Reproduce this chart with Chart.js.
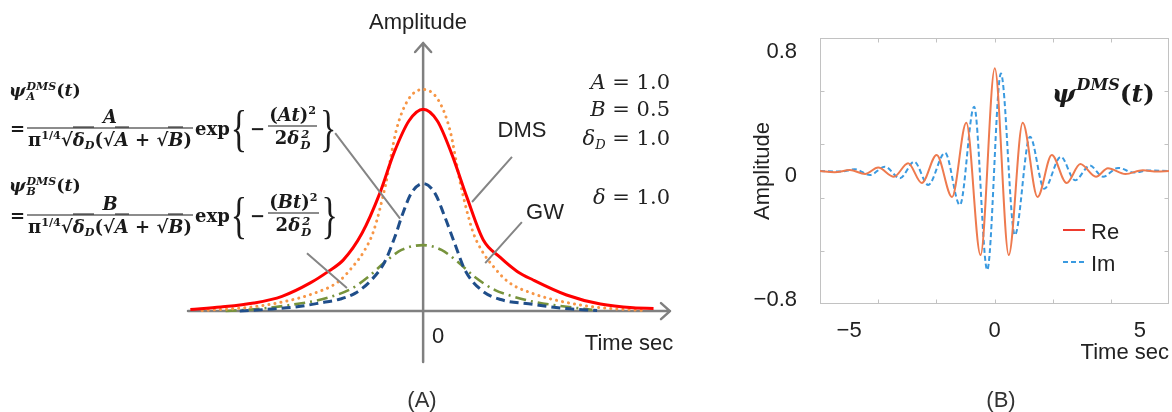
<!DOCTYPE html>
<html><head><meta charset="utf-8">
<script src="https://cdn.jsdelivr.net/npm/chart.js@4.4.1/dist/chart.umd.min.js"></script>
<style>
html,body{margin:0;padding:0;background:#fff}
#wrap{position:relative;width:1172px;height:412px;overflow:hidden;font-family:"Liberation Sans",Arial,sans-serif;color:#222}
canvas{position:absolute;top:0}
#cA{left:0}
#cB{left:700px}
.t{position:absolute;white-space:nowrap;line-height:1}
.cc{transform:translate(-50%,-50%)}
.s22{font-size:22px}
.par{position:absolute;white-space:nowrap;line-height:1;font-family:"DejaVu Serif",serif;font-size:21px;right:502px;transform:translateY(-50%);color:#222}
.par i{font-style:italic}
.par sub{font-size:0.62em;vertical-align:-0.35em;line-height:0;font-style:italic}
.m{font-family:"DejaVu Serif",serif;font-weight:bold;color:#1a1a1a;font-size:17.5px}
.m i{font-style:italic}
.ss{display:inline-block;vertical-align:-4px;font-size:11px;line-height:10px;font-style:italic;margin-left:1px}
.ss span{display:block}
.row{display:flex;align-items:center;transform:translateY(-50%);font-size:18px}
.row .ss{font-size:11.5px;line-height:11px;vertical-align:-5px}
.frac{display:inline-flex;flex-direction:column;text-align:center;margin:0 2px}
.num{border-bottom:1.6px solid #1a1a1a;padding:0 1px 2px}
.den{padding:2px 1px 0}
.m sup{font-size:0.62em;vertical-align:0.6em;line-height:0}
.m sub{font-size:0.62em;vertical-align:-0.35em;line-height:0}
.ov{border-top:1.5px solid #1a1a1a;padding-top:1px}
.br{font-family:"Liberation Serif",serif;font-weight:normal;font-size:34px;line-height:1;display:inline-block;transform:scaleY(1.5);margin:0 1px}
.mn{margin:0 1px 0 2px}
.big{font-family:"DejaVu Serif",serif;font-weight:bold;font-size:25px;color:#1a1a1a}
.big .ss{font-size:16px;line-height:14px;vertical-align:-2px}
</style></head>
<body>
<div id="wrap">
<canvas id="cA" width="700" height="412"></canvas>
<canvas id="cB" width="472" height="412"></canvas>

<div class="t m" style="left:9px;top:82px"><i>ψ</i><span class="ss"><span>DMS</span><span>A</span></span>(<i>t</i>)</div>
<div class="t m row" style="left:10px;top:128px">
  <span>=</span>
  <span class="frac"><span class="num"><i>A</i></span><span class="den"><span>π</span><sup>1/4</sup><span>√</span><span class="ov"><i>δ</i><sub><i>D</i></sub></span>(<span>√</span><span class="ov"><i>A</i></span> + <span>√</span><span class="ov"><i>B</i></span>)</span></span>
  <span>exp</span><span class="br">{</span><span class="mn">−</span>
  <span class="frac"><span class="num">(<i>At</i>)<sup>2</sup></span><span class="den">2<i>δ</i><span class="ss" style="font-style:italic"><span>2</span><span>D</span></span></span></span>
  <span class="br">}</span>
</div>

<div class="t m" style="left:9px;top:177px"><i>ψ</i><span class="ss"><span>DMS</span><span>B</span></span>(<i>t</i>)</div>
<div class="t m row" style="left:10px;top:215px">
  <span>=</span>
  <span class="frac"><span class="num"><i>B</i></span><span class="den"><span>π</span><sup>1/4</sup><span>√</span><span class="ov"><i>δ</i><sub><i>D</i></sub></span>(<span>√</span><span class="ov"><i>A</i></span> + <span>√</span><span class="ov"><i>B</i></span>)</span></span>
  <span>exp</span><span class="br">{</span><span class="mn">−</span>
  <span class="frac"><span class="num">(<i>Bt</i>)<sup>2</sup></span><span class="den">2<i>δ</i><span class="ss" style="font-style:italic"><span>2</span><span>D</span></span></span></span>
  <span class="br">}</span>
</div>

<div class="t s22 cc" style="left:418px;top:22px">Amplitude</div>
<div class="t s22 cc" style="left:438px;top:336px">0</div>
<div class="t s22 cc" style="left:629px;top:343px">Time sec</div>
<div class="t s22 cc" style="left:522px;top:130px">DMS</div>
<div class="t s22 cc" style="left:545px;top:212px">GW</div>
<div class="par" style="top:82px"><i>A</i> = 1.0</div>
<div class="par" style="top:109px"><i>B</i> = 0.5</div>
<div class="par" style="top:138px"><i>δ</i><sub>D</sub> = 1.0</div>
<div class="par" style="top:197px"><i>δ</i> = 1.0</div>
<div class="t s22 cc" style="left:422px;top:400px;color:#333">(A)</div>
<div class="t s22 cc" style="left:1001px;top:400px;color:#333">(B)</div>
<div class="t big" style="left:1052px;top:78px"><i>ψ</i><span class="ss"><span>DMS</span><span>&nbsp;</span></span>(<i>t</i>)</div>
</div>

<script>
// ---------- Panel (A) data ----------
const dmsT   = [-4.95,-4.3,-3.6,-3.0,-2.4,-2.0,-1.7,-1.3,-0.92,-0.62,-0.3,0,0.3,0.6,0.93,1.28,1.64,2.0,2.34,3.05,3.77,4.47,4.9];
const dmsAmp = [0.006,0.015,0.03,0.055,0.105,0.15,0.19,0.29,0.44,0.59,0.71,0.753,0.71,0.59,0.425,0.265,0.20,0.148,0.116,0.06,0.026,0.012,0.01];
const gwT    = [-4.7,-3.75,-3.05,-2.34,-1.8,-1.5,-1.25,-1.05,-0.8,-0.57,-0.33,0,0.33,0.57,0.8,1.05,1.25,1.5,1.8,2.34,3.05,3.75,4.7];
const gwAmp  = [0.002,0.013,0.032,0.065,0.11,0.165,0.225,0.30,0.47,0.675,0.785,0.827,0.785,0.675,0.47,0.30,0.225,0.165,0.11,0.065,0.032,0.013,0.002];
const psiAT  = [-3.9,-3.2,-2.68,-2.2,-1.76,-1.45,-1.1,-0.815,-0.6,-0.43,-0.25,0,0.25,0.46,0.67,0.89,1.24,1.65,2.34,3.0,3.7];
const psiAAmp= [0,0.008,0.016,0.03,0.045,0.066,0.116,0.184,0.277,0.365,0.44,0.476,0.44,0.352,0.253,0.153,0.078,0.043,0.025,0.01,0.002];
const psiBT  = [-4.2,-3.47,-2.7,-2.13,-1.53,-1.17,-0.81,-0.46,0,0.39,0.74,1.1,1.53,1.81,2.34,3.06,3.6];
const psiBAmp= [0,0.009,0.026,0.045,0.083,0.127,0.183,0.228,0.246,0.228,0.183,0.127,0.078,0.06,0.035,0.016,0.005];
// callout leader lines (data units): from label to curve
const calloutFrom = [[-1.87,0.664],[-2.47,0.216],[1.89,0.575],[2.1,0.332]];
const calloutTo   = [[-0.49,0.345],[-1.62,0.086],[1.04,0.407],[1.32,0.179]];

// ---------- Panel (B) data (extrema) ----------
const reT   = [-6,-5.5,-4.97,-4.45,-4.0,-3.46,-2.97,-2.5,-1.99,-1.46,-0.97,-0.48,0.01,0.49,0.97,1.48,1.97,2.48,2.95,3.49,3.9,4.5,5.1,5.6,6];
const reVal = [0,-0.008,0.006,-0.019,0.022,-0.037,0.05,-0.078,0.103,-0.168,0.312,-0.543,0.664,-0.543,0.312,-0.168,0.103,-0.078,0.045,-0.037,0.018,-0.02,0.005,-0.004,0];
const imT   = [-6,-5.3,-4.8,-4.28,-3.77,-3.25,-2.76,-2.28,-1.7,-1.19,-0.7,-0.25,0.22,0.7,1.22,1.71,2.28,2.77,3.28,3.73,4.25,4.8,5.3,6];
const imVal = [0,-0.004,0.011,-0.026,0.028,-0.047,0.06,-0.09,0.118,-0.22,0.416,-0.64,0.63,-0.414,0.222,-0.115,0.092,-0.06,0.035,-0.037,0.02,-0.01,0.004,0];
const xTickValues = [-5,0,5];
const xTickLabels = ['\u22125','0','5'];
const yTickValues = [-0.8,0,0.8];
const yTickLabels = ['\u22120.8','0','0.8'];
const xMarkValues = [-4,-2,0,2,4];
const yMarkValues = [-0.516,-0.172,0.172,0.516];
const legendNames = ['Re','Im'];

const pts = (ts, vs) => ts.map((t,i) => ({x:t, y:vs[i]}));

// ---------- Panel (A) ----------
const axesA = {
  id:'axesA',
  beforeDatasetsDraw(chart){
    const {ctx, chartArea:a, scales:{x,y}} = chart;
    const x0 = x.getPixelForValue(0), y0 = y.getPixelForValue(0);
    ctx.save();
    ctx.strokeStyle='#808080'; ctx.lineWidth=2.5; ctx.lineCap='round'; ctx.lineJoin='round';
    ctx.beginPath();
    ctx.moveTo(a.left,y0); ctx.lineTo(a.right,y0);
    ctx.moveTo(a.right-9,y0-8); ctx.lineTo(a.right,y0); ctx.lineTo(a.right-9,y0+8);
    ctx.moveTo(x0,a.bottom); ctx.lineTo(x0,a.top);
    ctx.moveTo(x0-8,a.top+9); ctx.lineTo(x0,a.top); ctx.lineTo(x0+8,a.top+9);
    ctx.stroke();
    ctx.restore();
  },
  afterDatasetsDraw(chart){
    const {ctx, scales:{x,y}} = chart;
    ctx.save();
    ctx.strokeStyle='#858585'; ctx.lineWidth=2;
    ctx.beginPath();
    calloutFrom.forEach((f,i)=>{
      const to = calloutTo[i];
      ctx.moveTo(x.getPixelForValue(f[0]), y.getPixelForValue(f[1]));
      ctx.lineTo(x.getPixelForValue(to[0]), y.getPixelForValue(to[1]));
    });
    ctx.stroke();
    ctx.restore();
  }
};
const lineBase = {pointRadius:0, fill:false, cubicInterpolationMode:'monotone', borderWidth:3};
new Chart(document.getElementById('cA'), {
  type:'line',
  data:{datasets:[
    Object.assign({label:'DMS', data:pts(dmsT,dmsAmp), borderColor:'#FF0000'}, lineBase),
    Object.assign({}, lineBase, {label:'GW', data:pts(gwT,gwAmp), borderColor:'#F79646', borderDash:[0.1,6], borderCapStyle:'round'}),
    Object.assign({}, lineBase, {label:'ψA', data:pts(psiAT,psiAAmp), borderColor:'#1F4E8A', borderDash:[9,5]}),
    Object.assign({}, lineBase, {label:'ψB', data:pts(psiBT,psiBAmp), borderColor:'#77933C', borderDash:[11,5,2,5], borderWidth:2.6})
  ]},
  options:{
    responsive:false, animation:false, events:[],
    layout:{padding:{left:188,right:30,top:43,bottom:50}},
    plugins:{legend:{display:false}, tooltip:{enabled:false}},
    scales:{
      x:{type:'linear', min:-5, max:5.25, display:false},
      y:{type:'linear', min:-0.19, max:1, display:false}
    }
  },
  plugins:[axesA]
});

// ---------- Panel (B) ----------
const fontB = {family:'"Liberation Sans", Arial, sans-serif', size:22};
const frameB = {
  id:'frameB',
  beforeDatasetsDraw(chart){
    const {ctx, chartArea:a, scales:{x,y}} = chart;
    ctx.save();
    ctx.strokeStyle='#c2c2c2'; ctx.lineWidth=1;
    const L=Math.round(a.left)+0.5, T=Math.round(a.top)+0.5, R=Math.round(a.right)-0.5, B=Math.round(a.bottom)-0.5;
    ctx.strokeRect(L,T,R-L,B-T);
    ctx.beginPath();
    xMarkValues.forEach(v=>{const p=Math.round(x.getPixelForValue(v))+0.5; ctx.moveTo(p,T); ctx.lineTo(p,T+4); ctx.moveTo(p,B); ctx.lineTo(p,B-4);});
    yMarkValues.forEach(v=>{const p=Math.round(y.getPixelForValue(v))+0.5; ctx.moveTo(L,p); ctx.lineTo(L+4,p); ctx.moveTo(R,p); ctx.lineTo(R-4,p);});
    ctx.stroke();
    ctx.restore();
  },
  afterDatasetsDraw(chart){
    const {ctx, chartArea:a} = chart;
    ctx.save();
    const cols=['#EE3B2E','#3A9AE0'];
    legendNames.forEach((n,i)=>{
      const yy = a.top+192+i*32;
      ctx.strokeStyle=cols[i]; ctx.lineWidth=2; ctx.setLineDash(i?[5,3]:[]);
      ctx.beginPath(); ctx.moveTo(a.right-106,yy); ctx.lineTo(a.right-84,yy); ctx.stroke();
      ctx.setLineDash([]);
      ctx.fillStyle='#222'; ctx.font='22px "Liberation Sans", Arial, sans-serif'; ctx.textBaseline='middle'; ctx.textAlign='left';
      ctx.fillText(n, a.right-78, yy+3);
    });
    ctx.restore();
  }
};
new Chart(document.getElementById('cB'), {
  type:'line',
  data:{datasets:[
    {label:'Re', data:pts(reT,reVal), borderColor:'#EE7A4E', borderWidth:2, pointRadius:0, fill:false, cubicInterpolationMode:'monotone'},
    {label:'Im', data:pts(imT,imVal), borderColor:'#3A9AE0', borderWidth:2, borderDash:[5,3], pointRadius:0, fill:false, cubicInterpolationMode:'monotone'}
  ]},
  options:{
    responsive:false, animation:false, events:[],
    layout:{padding:{left:0,right:3,top:38,bottom:0}},
    plugins:{legend:{display:false}, tooltip:{enabled:false}},
    scales:{
      x:{type:'linear', min:-6, max:6,
         afterBuildTicks:s=>{s.ticks=xTickValues.map(v=>({value:v}));},
         afterFit:s=>{s.height=108;},
         grid:{display:false}, border:{display:false},
         ticks:{padding:6, font:fontB, color:'#222', autoSkip:false, maxRotation:0, callback:(v,i)=>xTickLabels[i]},
         title:{display:true, text:'Time sec', align:'end', font:fontB, color:'#222', padding:{top:0,bottom:46}}},
      y:{type:'linear', min:-0.86, max:0.86,
         afterBuildTicks:s=>{s.ticks=yTickValues.map(v=>({value:v}));},
         afterFit:s=>{s.width=120;},
         grid:{display:false}, border:{display:false},
         ticks:{padding:15, labelOffset:5, font:fontB, color:'#222', autoSkip:false, callback:(v,i)=>yTickLabels[i]},
         title:{display:true, text:'Amplitude', font:fontB, color:'#222', padding:{top:50,bottom:0}}}
    }
  },
  plugins:[frameB]
});
</script>
</body></html>
